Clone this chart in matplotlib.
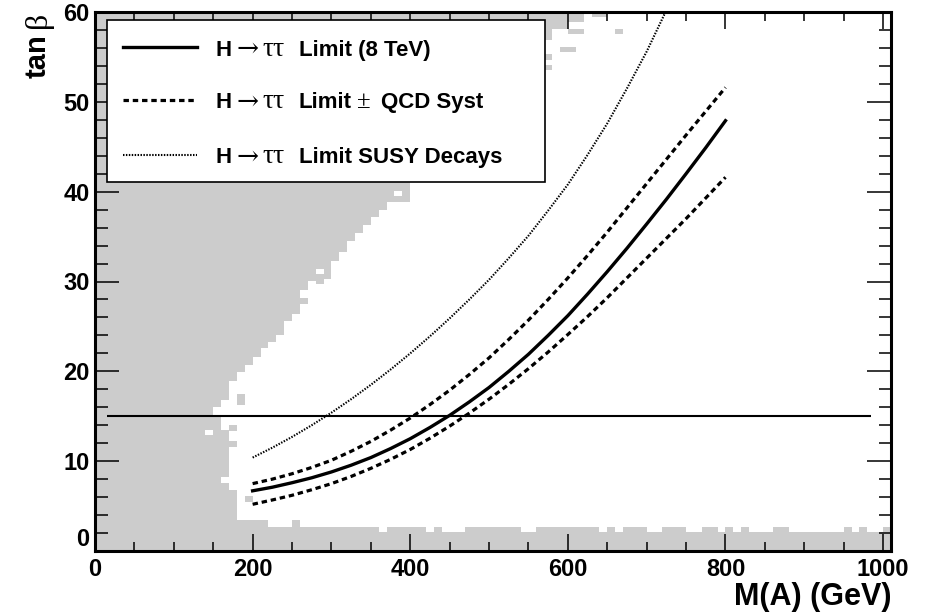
import matplotlib
matplotlib.use("Agg")
import matplotlib.pyplot as plt
from matplotlib.patches import Rectangle
from matplotlib.lines import Line2D
from matplotlib.ticker import MultipleLocator

plt.rcParams["font.family"] = "Liberation Sans"
plt.rcParams["font.weight"] = "bold"

# tan(beta) limits vs M(A) [GeV]
mass = list(range(200, 825, 25))
limit_8tev = [6.7, 7.1, 7.6, 8.15, 8.8, 9.55, 10.4, 11.4, 12.5, 13.75, 15.1, 16.6, 18.2,
              20.0, 21.9, 24.0, 26.2, 28.6, 31.1, 33.7, 36.4, 39.15, 42.0, 44.9, 47.9]
limit_qcd_up = [7.5, 8.0, 8.6, 9.3, 10.1, 11.1, 12.2, 13.45, 14.8, 16.3, 17.9, 19.65, 21.5,
                23.55, 25.7, 28.0, 30.4, 32.9, 35.5, 38.2, 40.9, 43.6, 46.3, 48.95, 51.6]
limit_qcd_down = [5.2, 5.68, 6.2, 6.82, 7.5, 8.3, 9.2, 10.2, 11.3, 12.55, 13.9, 15.35, 16.9,
                  18.55, 20.3, 22.15, 24.1, 26.1, 28.2, 30.4, 32.6, 34.8, 37.0, 39.3, 41.6]
mass_susy = list(range(200, 775, 25))
limit_susy = [10.4, 11.5, 12.7, 14.0, 15.4, 16.9, 18.5, 20.2, 22.0, 23.9, 25.9, 28.0,
              30.2, 32.6, 35.1, 37.9, 40.8, 44.1, 47.6, 51.5, 55.6, 60.2, 65.1]

ref_tanb = 15
ref_mass = [15, 985]

# excluded scan region: right edge (GeV) of the grey band for each tan(beta) slice
edge_tb = [0.0, 6.8, 7.6, 8.2, 11.6, 12.2, 13.5, 15.0, 16.0, 16.8,
           18.9, 19.9, 20.7, 21.6, 22.6, 23.3, 24.0, 25.6, 26.4, 27.5,
           28.2, 29.0, 29.7, 30.3, 31.3, 32.3, 33.3, 34.5, 35.4, 36.3,
           37.2, 38.0, 38.8, 41.1, 43.0, 45.0, 47.0, 49.0, 51.0, 53.0,
           53.5, 54.1, 54.7, 55.3, 56.9, 57.5, 58.1, 58.9, 60.0]
edge_x = [180, 170, 160, 170, 180, 170, 160, 150, 160, 170,
          180, 190, 200, 210, 220, 230, 240, 250, 260, 270,
          260, 270, 290, 300, 300, 310, 320, 330, 340, 350,
          360, 370, 400, 420, 440, 460, 480, 500, 530, 560,
          580, 560, 580, 560, 580, 580, 600, 620]

# low tan(beta) strip, 10 GeV columns starting at 180 GeV
floor_x = list(range(180, 1010, 10))
H, M, L = 3.4, 2.7, 2.1
floor_tb = [H, H, H, H, M, M, M, H] + [M] * 10 + [L] + [M] * 5 + [L, M, L, L, L] \
    + [M] * 7 + [L, L] + [M] * 8 + [L, M, L, M, M, M, L, L, M, M, M, L, L, M, M, L, M, L, M] \
    + [L, L, L, M, M] + [L] * 7 + [M, L, M, L, L, M]

# isolated grey cells and white gaps
island_x = [190, 170, 180, 180, 590, 600, 600, 610, 660, 630, 640]
island_tb = [5.5, 13.4, 16.3, 16.9, 55.5, 55.5, 57.5, 57.5, 57.5, 59.4, 59.4]
hole_x = [140, 150, 270, 280, 380]
hole_tb = [12.9, 15.0, 29.5, 30.8, 39.5]

GREY = "#cccccc"
SANS = dict(family="Liberation Sans", weight="bold")
SYM = dict(family=["Liberation Serif", "DejaVu Serif"], weight="normal")
ARROW = dict(family="DejaVu Serif", weight="normal")

fig = plt.figure(figsize=(9.31, 6.14), dpi=100)
ax = fig.add_axes([95 / 931, 63 / 614, 796 / 931, 539 / 614])
ax.set_xlim(0, 1010)
ax.set_ylim(0, 60)

ax.fill_betweenx(edge_tb, 0, edge_x + [edge_x[-1]], step="post",
                 color=GREY, lw=0, antialiased=False, zorder=1)
ax.fill_between(floor_x + [1010], 0, floor_tb + [floor_tb[-1]], step="post",
                color=GREY, lw=0, antialiased=False, zorder=1)
for x, y in zip(island_x, island_tb):
    ax.add_patch(Rectangle((x, y), 10, 0.6, color=GREY, lw=0, antialiased=False, zorder=1))
for x, y in zip(hole_x, hole_tb):
    ax.add_patch(Rectangle((x, y), 10, 0.6, color="white", lw=0, antialiased=False, zorder=1.5))

ax.hlines(ref_tanb, ref_mass[0], ref_mass[1], color="k", lw=1.5, zorder=3)

style_nom = dict(color="k", lw=2.4)
style_qcd = dict(color="k", lw=2.3, ls=(0, (1.7, 1.2)))
style_susy = dict(color="k", lw=1.5, ls=(0, (0.7, 0.7)))
ax.plot(mass, limit_8tev, zorder=4, **style_nom)
ax.plot(mass, limit_qcd_up, zorder=4, **style_qcd)
ax.plot(mass, limit_qcd_down, zorder=4, **style_qcd)
ax.plot(mass_susy, limit_susy, zorder=4, **style_susy)

# axes in ROOT style
for sp in ax.spines.values():
    sp.set_linewidth(2.2)
    sp.set_zorder(6)
ax.xaxis.set_major_locator(MultipleLocator(200))
ax.xaxis.set_minor_locator(MultipleLocator(50))
ax.yaxis.set_major_locator(MultipleLocator(10))
ax.yaxis.set_minor_locator(MultipleLocator(2))
ax.tick_params(which="both", direction="in", top=True, right=True, width=1.1, labelsize=17)
ax.tick_params(axis="x", which="major", length=12.5, pad=5)
ax.tick_params(axis="x", which="minor", length=6.5)
ax.tick_params(axis="y", which="major", length=17, pad=4)
ax.tick_params(axis="y", which="minor", length=9)
ax.set_xticks([0, 200, 400, 600, 800, 1000])
ax.set_yticks([0, 10, 20, 30, 40, 50, 60])
ax.get_yticklabels()[0].set_verticalalignment("bottom")
ax.set_xlabel("M(A) (GeV)", loc="right", fontsize=22, fontweight="bold", labelpad=1)

renderer = fig.canvas.get_renderer()


def draw_parts(x, y, parts, coords, rotation=0, align="left"):
    """Write a label made of pieces in different fonts; numbers are gaps in points."""
    seq = parts if align == "left" else parts[::-1]
    sign = 1 if align == "left" else -1
    shift = 0.0
    for piece in seq:
        if isinstance(piece, (int, float)):
            shift += sign * piece
            continue
        text, props, size = piece
        off = (0, shift) if rotation else (shift, 0)
        t = ax.annotate(text, xy=(x, y), xycoords=coords, xytext=off, textcoords="offset points",
                        rotation=rotation, rotation_mode="anchor", ha=align, va="baseline",
                        fontsize=size, annotation_clip=False, zorder=8, **props)
        ext = t.get_window_extent(renderer)
        adv = ext.height if rotation else ext.width
        shift += sign * adv * 72 / fig.dpi


draw_parts(46 / 931, 1 - 12 / 614, [("tan", SANS, 21), 4, ("β", SYM, 23)], fig.transFigure,
           rotation=90, align="right")

# legend box
ax.add_patch(Rectangle((0.015, 0.685), 0.55, 0.300, transform=ax.transAxes,
                       facecolor="white", edgecolor="k", lw=1.2, zorder=7))
rows = [
    (0.935, style_nom, [("Limit (8 TeV)", SANS, 16)]),
    (0.837, style_qcd, [("Limit", SANS, 16), 4, ("±", SYM, 18), 7, ("QCD Syst", SANS, 16)]),
    (0.735, style_susy, [("Limit SUSY Decays", SANS, 16)]),
]
for yc, style, tail in rows:
    ax.add_line(Line2D([0.035, 0.128], [yc, yc], transform=ax.transAxes, zorder=8, **style))
    parts = [("H", SANS, 16), 3, ("→", ARROW, 19), 3, ("ττ", SYM, 20), 10] + tail
    draw_parts(0.152, yc - 0.016, parts, ax.transAxes)

fig.savefig("out.png", dpi=100)
